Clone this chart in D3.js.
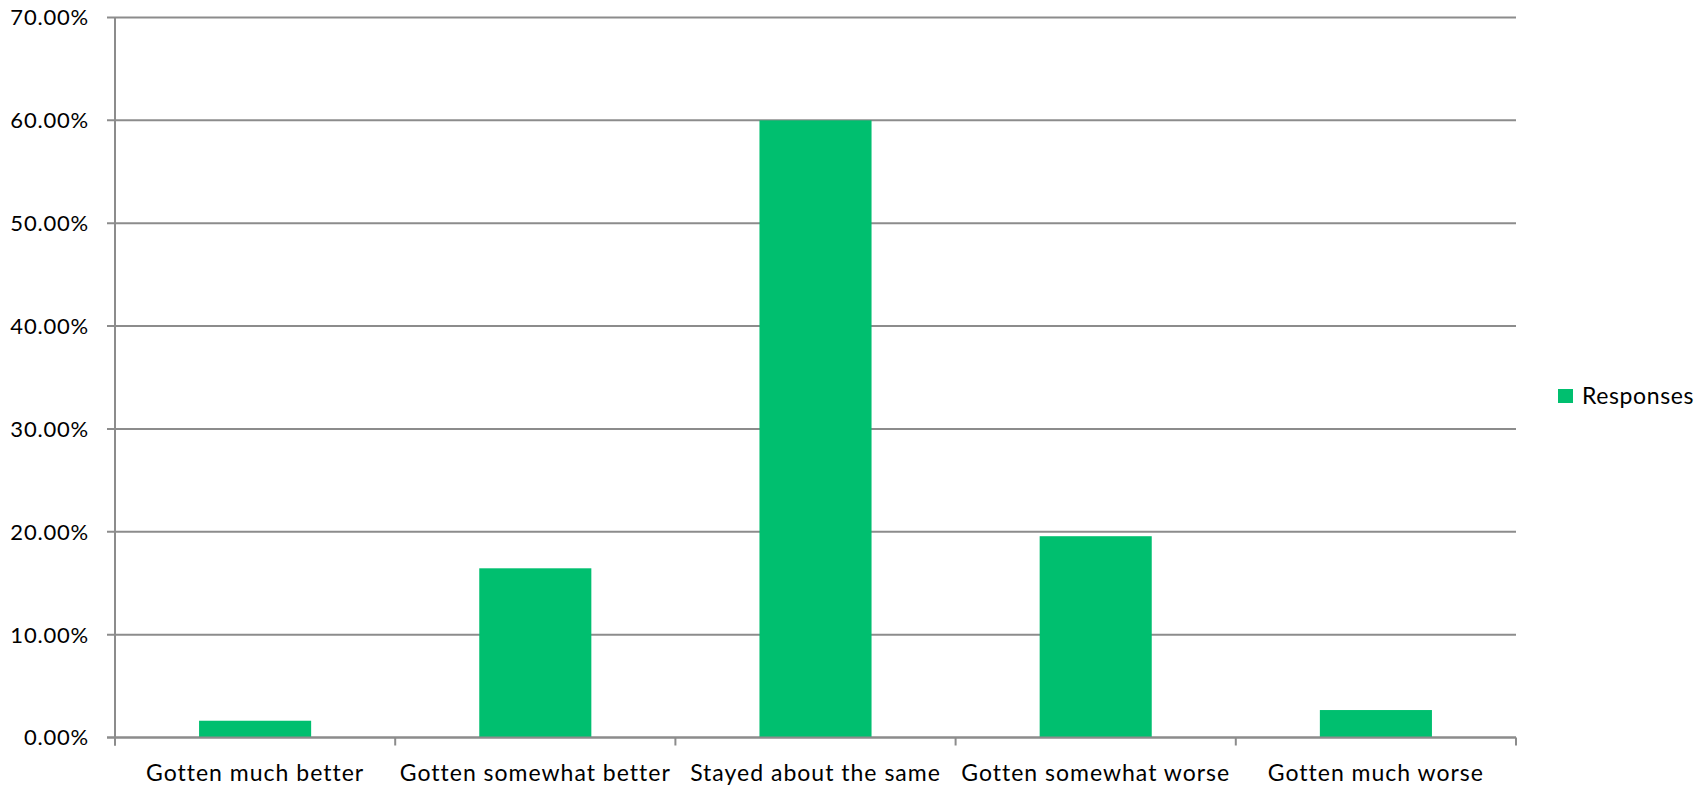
<!DOCTYPE html>
<html>
<head>
<meta charset="utf-8">
<script src="https://cdn.jsdelivr.net/npm/d3@7"></script>
<style>
  html, body { margin: 0; padding: 0; background: #fff; }
  svg { display: block; }
  text { font-family: Lato, "Open Sans", sans-serif; fill: #000; }
</style>
</head>
<body>
<svg id="chart" width="1707" height="787"></svg>
<script>
const categories = ["Gotten much better", "Gotten somewhat better", "Stayed about the same", "Gotten somewhat worse", "Gotten much worse"];
const values = [1.63, 16.45, 60.0, 19.57, 2.67];
const yTicks = [0, 10, 20, 30, 40, 50, 60, 70];
const seriesName = "Responses";

(function () {
const svg = d3.select("#chart");
const pLeft = 115, pRight = 1516, pTop = 17.5, pBottom = 737.5;
const gridColor = "#8c8c8c";
const barColor = "#00bf6f";

const x = d3.scaleBand().domain(categories).range([pLeft, pRight]).paddingInner(0.6).paddingOuter(0.3);
const xb = d3.scaleBand().domain(categories).range([pLeft, pRight]);
const y = d3.scaleLinear().domain([0, 70]).range([pBottom, pTop]);

// gridlines
svg.append("g").selectAll("line").data(yTicks).join("line")
  .attr("x1", pLeft - 8).attr("x2", pRight)
  .attr("y1", d => y(d)).attr("y2", d => y(d))
  .attr("stroke", gridColor).attr("stroke-width", 2);

// y tick labels
svg.append("g").selectAll("text").data(yTicks).join("text")
  .attr("x", 89).attr("y", d => y(d))
  .attr("dy", "0.36em")
  .attr("text-anchor", "end")
  .style("font-size", "22px")
  .style("letter-spacing", "0.8px")
  .text(d => d3.format(".2f")(d) + "%");

// bars
svg.append("g").selectAll("rect").data(categories).join("rect")
  .attr("x", d => x(d)).attr("width", x.bandwidth())
  .attr("y", (d, i) => y(values[i]))
  .attr("height", (d, i) => y(0) - y(values[i]))
  .attr("fill", barColor);

// y axis line
svg.append("line").attr("x1", pLeft).attr("x2", pLeft).attr("y1", pTop).attr("y2", pBottom + 8)
  .attr("stroke", gridColor).attr("stroke-width", 2);
// x axis line
svg.append("line").attr("x1", pLeft - 8).attr("x2", pRight).attr("y1", pBottom).attr("y2", pBottom)
  .attr("stroke", gridColor).attr("stroke-width", 2);
// x ticks at band boundaries
const bounds = categories.map(c => xb(c)).concat([pRight]);
svg.append("g").selectAll("line").data(bounds).join("line")
  .attr("x1", d => d).attr("x2", d => d)
  .attr("y1", pBottom).attr("y2", pBottom + 8)
  .attr("stroke", gridColor).attr("stroke-width", 2);

// x labels
svg.append("g").selectAll("text").data(categories).join("text")
  .attr("x", d => xb(d) + xb.bandwidth() / 2)
  .attr("y", 781)
  .attr("text-anchor", "middle")
  .style("font-size", "23px")
  .style("letter-spacing", "1px")
  .text(d => d);

// legend
const lg = svg.append("g");
lg.append("rect").attr("x", 1558).attr("y", 389).attr("width", 15).attr("height", 14).attr("fill", barColor);
lg.append("text").attr("x", 1582).attr("y", 404).style("font-size", "23px").style("letter-spacing", "0.6px").text(seriesName);
})();
</script>
</body>
</html>
